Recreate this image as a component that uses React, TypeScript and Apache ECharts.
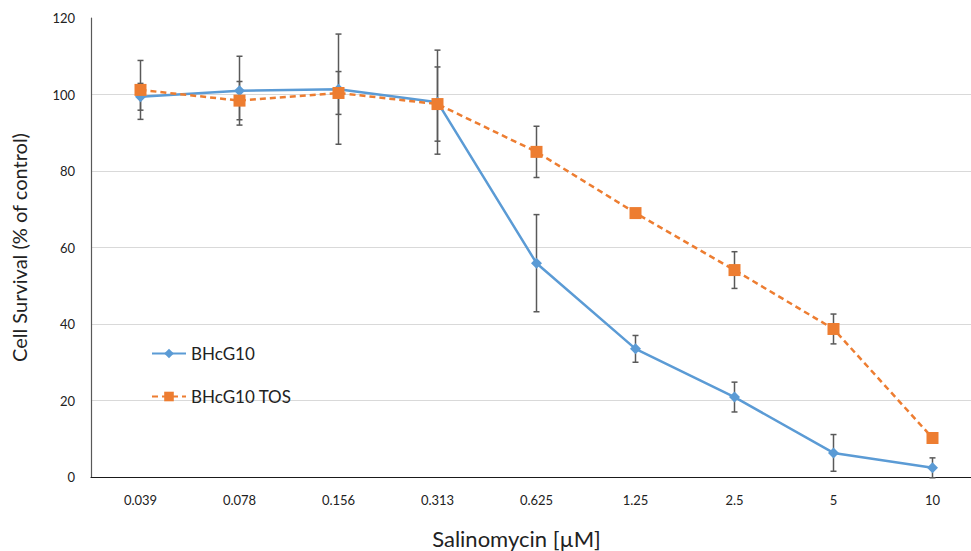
import React, { useEffect, useRef } from "react";
import * as echarts from "echarts";

const categories = ["0.039", "0.078", "0.156", "0.313", "0.625", "1.25", "2.5", "5", "10"];
const bhcg10 = [99.4, 101, 101.4, 98, 55.9, 33.5, 20.9, 6.3, 2.4];
const bhcg10Err = [3.5, 9, 14.4, 13.6, 12.7, 3.5, 3.9, 4.8, 2.6];
const bhcg10Tos = [101.2, 98.4, 100.4, 97.5, 85, 69, 54.1, 38.7, 10.2];
const bhcg10TosErr = [7.7, 5, 5.6, 9.7, 6.7, 0, 4.8, 3.9, 0];
const yTicks = [0, 20, 40, 60, 80, 100, 120];

const FONT = "Lato, 'Open Sans', sans-serif";

function errorSeries(values: number[], errs: number[]) {
  const data = values.map((v, i) => [i, v - errs[i], v + errs[i]]);
  return {
    type: "custom",
    z: 1,
    silent: true,
    data,
    renderItem: (params: any, api: any) => {
      const x = api.value(0);
      const lo = api.coord([x, api.value(1)]);
      const hi = api.coord([x, api.value(2)]);
      const half = 3;
      const style = { stroke: "#595959", lineWidth: 1.5 };
      return {
        type: "group",
        children: [
          { type: "line", shape: { x1: lo[0], y1: lo[1], x2: hi[0], y2: hi[1] }, style },
          { type: "line", shape: { x1: lo[0] - half, y1: lo[1], x2: lo[0] + half, y2: lo[1] }, style },
          { type: "line", shape: { x1: hi[0] - half, y1: hi[1], x2: hi[0] + half, y2: hi[1] }, style },
        ],
      };
    },
  };
}

export default function App() {
  const ref = useRef<HTMLDivElement>(null);
  useEffect(() => {
    if (!ref.current) return;
    const chart = echarts.init(ref.current, null, { renderer: "svg" });
    chart.setOption({
      animation: false,
      backgroundColor: "#ffffff",
      textStyle: { fontFamily: FONT },
      grid: { left: 91, top: 18, bottom: 74, right: -11, containLabel: false, outerBoundsMode: "none" },
      legend: {
        orient: "vertical",
        left: 146,
        top: 340,
        itemGap: 26,
        itemWidth: 34,
        itemHeight: 12,
        textStyle: { fontSize: 17, color: "#222", fontFamily: FONT },
        data: ["BHcG10", "BHcG10 TOS"],
      },
      xAxis: {
        type: "category",
        data: categories,
        boundaryGap: true,
        axisLine: { lineStyle: { color: "#1a1a1a", width: 1.2 } },
        axisTick: { show: false },
        axisLabel: { fontSize: 13, color: "#222", margin: 16, fontFamily: FONT },
        name: "Salinomycin [µM]",
        nameLocation: "middle",
        nameGap: 50,
        nameTextStyle: { fontSize: 22, color: "#222", fontFamily: FONT, padding: [0, 40, 0, 0] },
      },
      yAxis: {
        type: "value",
        min: yTicks[0],
        max: yTicks[yTicks.length - 1],
        interval: 20,
        axisLine: { show: true, lineStyle: { color: "#595959", width: 1.2 } },
        axisTick: { show: false },
        axisLabel: { fontSize: 13, color: "#222", margin: 16, fontFamily: FONT },
        splitLine: { show: true, showMinLine: false, showMaxLine: false, lineStyle: { color: "#d9d9d9", width: 1 } },
        name: "Cell Survival (% of control)",
        nameLocation: "middle",
        nameGap: 62,
        nameTextStyle: { fontSize: 20, color: "#222", fontFamily: FONT },
      },
      series: [
        errorSeries(bhcg10, bhcg10Err),
        errorSeries(bhcg10Tos, bhcg10TosErr),
        {
          name: "BHcG10",
          type: "line",
          z: 3,
          data: bhcg10,
          symbol: "diamond",
          symbolSize: 11,
          lineStyle: { color: "#5B9BD5", width: 2.5 },
          itemStyle: { color: "#5B9BD5" },
        },
        {
          name: "BHcG10 TOS",
          type: "line",
          z: 4,
          data: bhcg10Tos,
          symbol: "rect",
          symbolSize: 12,
          lineStyle: { color: "#ED7D31", width: 2.5, type: [6, 4] },
          itemStyle: { color: "#ED7D31" },
        },
      ],
    });
    return () => chart.dispose();
  }, []);
  return <div ref={ref} style={{ width: 971, height: 551, position: "absolute", left: 0, top: 0 }} />;
}
